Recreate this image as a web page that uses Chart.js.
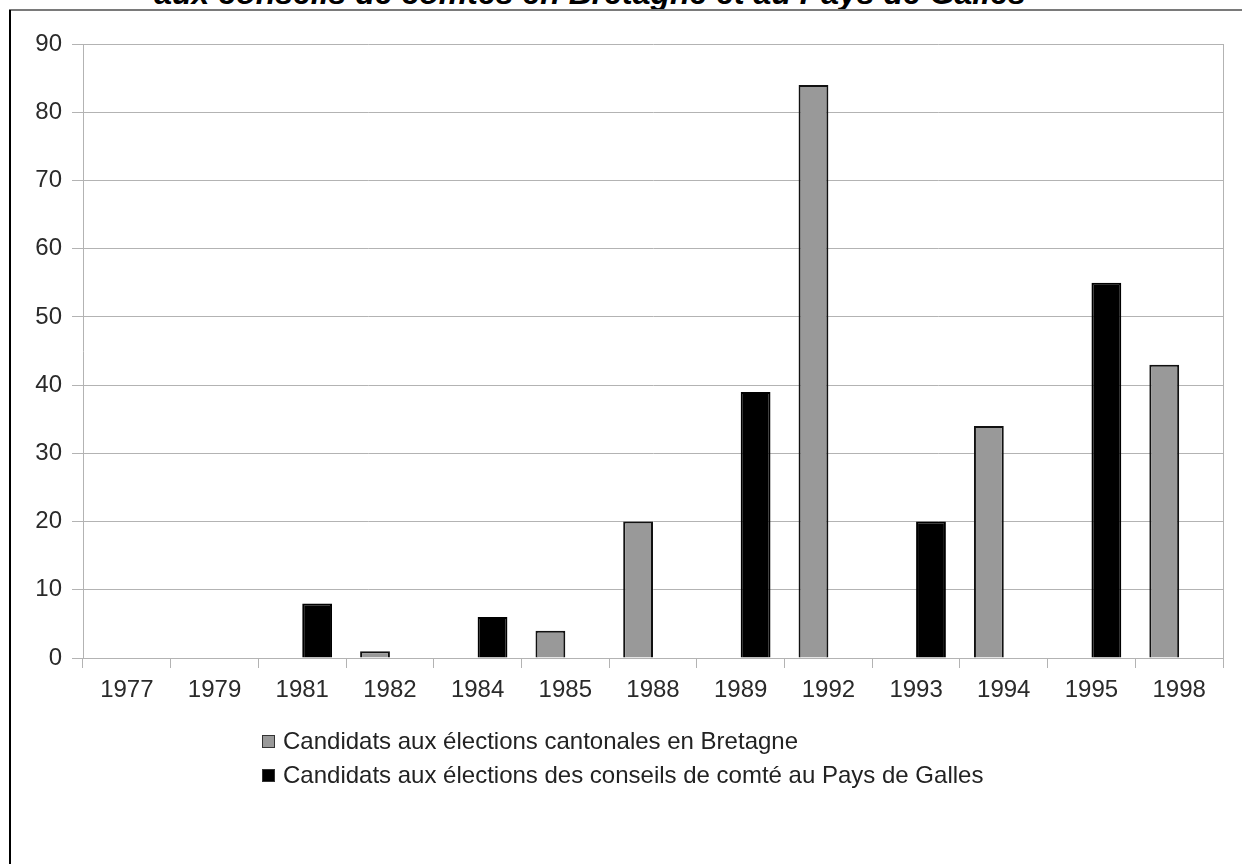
<!DOCTYPE html>
<html lang="fr">
<head>
<meta charset="utf-8">
<script src="https://cdn.jsdelivr.net/npm/chart.js@4"></script>
<style>
  html, body { margin: 0; padding: 0; background: #fff; }
  body { width: 1242px; height: 864px; position: relative; overflow: hidden; font-family: "Liberation Sans", Arial, sans-serif; }
  #title { position: absolute; left: 0; width: 1180px; text-align: center; top: -25px; font: italic bold 32px "Liberation Sans", Arial, sans-serif; color: #000; white-space: nowrap; }
  #topline { position: absolute; left: 9px; right: 0; top: 9px; height: 2px; background: #7a7a7a; }
  #leftline { position: absolute; left: 9px; top: 10px; bottom: 0; width: 2px; background: #000; }
  #wrap { position: absolute; left: 0; top: 0; width: 1242px; height: 864px; }
  #legend { position: absolute; left: 262px; top: 724px; font-size: 24px; color: #222; }
  .item { height: 34px; display: flex; align-items: center; white-space: nowrap; }
  .box { width: 11px; height: 11px; border: 1px solid #333; margin-right: 8px; }
</style>
</head>
<body>
<div id="title">aux conseils de comtés en Bretagne et au Pays de Galles</div>
<div id="topline"></div>
<div id="leftline"></div>
<div id="wrap"><canvas id="c" width="1242" height="864"></canvas></div>
<div id="legend"></div>
<script>
const years = ["1977","1979","1981","1982","1984","1985","1988","1989","1992","1993","1994","1995","1998"];
const bretagne = [null, null, null, 1, null, 4, 20, null, 84, null, 34, null, 43];
const galles = [null, null, 8, null, 6, null, null, 39, null, 20, null, 55, null];
const seriesNames = ["Candidats aux élections cantonales en Bretagne", "Candidats aux élections des conseils de comté au Pays de Galles"];
const yTicks = [0, 10, 20, 30, 40, 50, 60, 70, 80, 90];

const gridGray = '#b3b3b3';
const font = { family: '"Liberation Sans", Arial, sans-serif', size: 24 };

const chart = new Chart(document.getElementById('c'), {
  type: 'bar',
  data: {
    labels: years,
    datasets: [
      { label: seriesNames[0], data: bretagne, backgroundColor: '#999999', borderColor: '#111111', borderWidth: 2 },
      { label: seriesNames[1], data: galles, backgroundColor: '#000000', borderColor: '#000000', borderWidth: 2 }
    ]
  },
  options: {
    responsive: false,
    animation: false,
    devicePixelRatio: 1,
    layout: { padding: { left: 0, top: 44, right: 19, bottom: 156 } },
    datasets: { bar: { categoryPercentage: 0.68, barPercentage: 1 } },
    plugins: { legend: { display: false }, tooltip: { enabled: false }, title: { display: false } },
    scales: {
      x: {
        offset: true,
        grid: {
          offset: true,
          drawOnChartArea: true,
          color: ctx => ctx.type === 'tick' ? 'rgba(0,0,0,0)' : gridGray,
          tickColor: gridGray,
          tickLength: 10,
          lineWidth: 1
        },
        border: { color: gridGray },
        ticks: { color: '#2a2a2a', font: font, padding: 8, maxRotation: 0 },
        afterFit: s => { s.height = 50; }
      },
      y: {
        min: 0, max: 90,
        afterBuildTicks: s => { s.ticks = yTicks.map(v => ({ value: v })); },
        grid: { color: gridGray, tickColor: gridGray, tickLength: 11, lineWidth: 1 },
        border: { color: gridGray },
        ticks: { color: '#2a2a2a', font: font, padding: 10 },
        afterFit: s => { s.width = 83; }
      }
    }
  }
});

const legend = document.getElementById('legend');
chart.data.datasets.forEach(ds => {
  const row = document.createElement('div');
  row.className = 'item';
  const box = document.createElement('span');
  box.className = 'box';
  box.style.background = ds.backgroundColor;
  const txt = document.createElement('span');
  txt.textContent = ds.label;
  row.appendChild(box);
  row.appendChild(txt);
  legend.appendChild(row);
});
</script>
</body>
</html>
